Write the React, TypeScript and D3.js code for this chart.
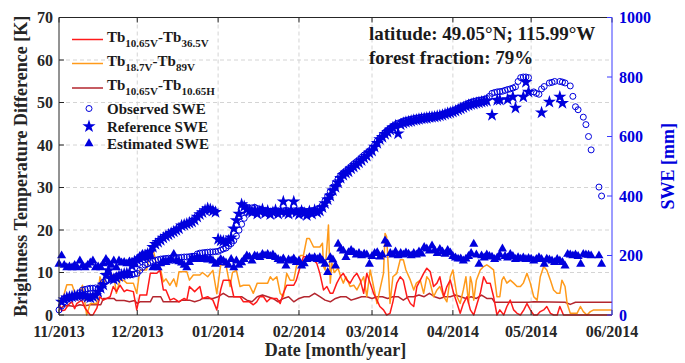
import React from 'react';
import * as d3 from 'd3';

// ---------- data ----------
const START_UTC = Date.UTC(2013, 10, 1);
const xTickLabels = ['11/2013', '12/2013', '01/2014', '02/2014', '03/2014', '04/2014', '05/2014', '06/2014'];
const leftTicks = [0, 10, 20, 30, 40, 50, 60, 70];
const rightTicks = [0, 200, 400, 600, 800, 1000];

// [day offset from 1 Nov 2013, K]
const tb1065V_365V: [number, number][] = [[0,2.7],[1,1.0],[2.3,1.2],[3.6,2.4],[4.9,3.1],[6,1.5],[6.8,2.7],[8.7,3.5],[10,1.6],[12,0],[13,0],[14.5,1.6],[15.7,4.3],[17,3.5],[19.6,4.3],[20.8,6.7],[22,5.5],[23.4,7],[25,5.5],[26,5.9],[28.5,5.5],[29.8,1.2],[31,4.7],[33.6,4.7],[35,9.8],[37.5,9.8],[38.7,10.6],[40,5.9],[41,5.9],[42.6,3.5],[44,3.9],[46,3.1],[48,3.9],[49,3.5],[50,6.7],[52,5.5],[54,6.7],[55,3.9],[57,4.3],[59,3.5],[60.5,1.2],[62,6],[63,8.2],[65.6,8.2],[67,4.3],[69.4,4.3],[70.7,3.1],[73,3.1],[74.5,2.4],[75.8,3.1],[77,4.3],[78.4,4.3],[79.7,3.1],[81,3.9],[83.5,3.9],[84.8,2.7],[86,5.1],[87.3,7],[90,7],[91,8.2],[92.5,11.4],[93.7,13.7],[96.3,13.7],[97.6,12.9],[98.8,12.2],[100,9.8],[101.4,5.9],[102.7,6.7],[104,5.1],[105,5.1],[106.5,7.5],[107.8,9],[109,9.8],[110.4,8.2],[111.6,7.5],[113,9],[114.2,9.8],[115.5,8.2],[116.8,5.1],[118,9.8],[119.3,7.5],[120.6,5.1],[121.9,3.5],[123,2],[124.4,1.2],[125.6,0],[126.9,0.4],[128,3.1],[129.5,7.5],[130.8,9],[132,8.2],[133.4,4.3],[134.7,2.7],[136,2],[137.2,6.7],[138.5,8.2],[139.8,9.8],[141,11],[142.3,10.2],[143.6,6.7],[144.9,7.5],[146,9],[147.5,4.3],[148.7,6.7],[150,8.2],[151.3,5.1],[152.6,2.7],[153.8,0.4],[155,2.7],[156.4,4.3],[157.7,1.2],[159,0],[160.3,2.7],[161.5,5.1],[162.8,9],[164,7.5],[165.3,7.5],[166.6,4.3],[167.9,0],[169,1.2],[170.5,0],[171.7,2],[173,3.5],[174.3,1.2],[175.6,0.4],[176.9,0],[178.2,1.2],[179.4,2.7],[180.7,1.2],[182,0],[183.3,0],[184.5,0.8],[185.8,1.2],[187,2],[188.4,0.4],[189.6,0],[191,0],[192,2],[193.4,0],[212,0]];

const tb187V_89V: [number, number][] = [[0,2.0],[2,5],[3,7.1],[5,7.1],[7,3.5],[9,7],[10.6,0],[12,2.7],[14.5,2.7],[15.7,9],[17,6.7],[18,9.4],[21,9.4],[22,5.1],[23.4,8.2],[24.7,8.2],[26,7.5],[28.5,7.5],[29.8,5.1],[31,10.6],[33.6,10.6],[35,15.3],[36,15.7],[37.5,11.4],[38.7,11.4],[40,7.8],[41,8.5],[42.5,7],[44,8.5],[45,6.7],[46,10.2],[49,10.2],[50,8.2],[51.5,9.4],[54,9.4],[55,10],[57,9],[59,10.5],[60.5,5],[62,11.8],[64,11.8],[65.6,6.7],[66.5,10],[68,10.5],[69.4,6.7],[70.7,7],[73,7],[74.5,5.1],[76,7.5],[80,7.5],[81,9],[82,8.2],[83.5,9],[84.8,5.1],[86,4.3],[87.3,9.8],[88.6,8.2],[90,8.2],[91,11.4],[92.5,14],[93.7,14],[95,18],[96,18],[97.6,16],[100,16],[101,16.9],[101.4,11.4],[102,10.6],[102.7,16],[103.3,21.2],[104,7.5],[104.6,12.2],[105.5,10],[107,11],[108,9],[109,7.5],[110,9],[111.6,6.7],[113,7],[114.2,5.9],[115.5,7.5],[116.8,9],[118,4.3],[119.3,10.6],[120.6,6.7],[121.9,2.7],[123,5.9],[124.4,9.8],[125,19.2],[125.6,18.4],[126.3,10.6],[126.9,2.7],[128,9],[129.5,9.8],[130.8,13],[132,13],[133,10.6],[134.7,8.2],[136,5.9],[137,7.5],[138.5,8.2],[139.8,5.1],[141,9],[142,8.2],[143.6,4.3],[144.9,5.9],[146,6.7],[147.5,4.3],[148.7,3.1],[150,9],[151,10.6],[152.6,4.3],[153.8,2.7],[155,5.9],[156,9],[157,2.7],[157.7,9],[158.3,7.5],[159,3.5],[160,8.2],[161.5,10.6],[162.8,11.4],[164,11.8],[165,11.4],[166.6,10.6],[167.9,4.3],[169,4.3],[169.8,8.2],[170.5,9],[171.7,7.5],[173,8.2],[174.3,7.5],[175.6,6.7],[176.9,6.7],[178,7.5],[179.4,9.8],[180.7,7.5],[182,4.3],[183.3,3.5],[184.5,9],[185.8,11.4],[187,10.6],[188.4,8.2],[189.6,5.9],[190.9,5.1],[192,5.1],[192.8,8.2],[194,6.7],[194.8,2.7],[196,0.4],[198.6,0.4],[199.9,2],[201,0.8],[202.4,0],[203.7,0.8],[205,1.2],[212,1.2]];

const tb1065V_1065H: [number, number][] = [[0,1.2],[2,2.2],[4,2.2],[6,2.0],[8,2.4],[10,2.2],[12,2.4],[14,2.4],[16,2.4],[17,3.9],[19,3.9],[21,3.9],[22,3.4],[25,3.4],[27,3.1],[29,3.4],[30,2.7],[31,3.1],[33,3.1],[35,3.1],[36,4.3],[38,4.3],[39,4.3],[40,3.1],[43,3.1],[46,3.1],[47,3.5],[50,3.5],[52,3.1],[54,3.5],[55,3.9],[57,3.9],[59,3.9],[61,4.3],[63,5.1],[65,4.3],[68,4.3],[70,4.3],[72,3.5],[74,3.1],[76,4.3],[78,4.7],[80,4.3],[82,3.9],[84,3.1],[86,3.9],[88,4.3],[90,3.1],[92,3.9],[94,4.3],[96,4.3],[98,5.1],[100,4.3],[102,3.5],[104,3.1],[106,3.9],[108,4.3],[110,4.3],[112,3.5],[114,3.9],[116,4.3],[118,4.3],[120,3.9],[122,4.3],[124,4.3],[126,3.9],[128,4.3],[130,4.3],[132,3.5],[134,4.3],[136,4.3],[138,4.7],[140,4.3],[142,5.1],[144,4.3],[146,3.9],[148,4.3],[150,4.3],[152,4.7],[154,4.3],[156,3.9],[158,4.3],[160,3.9],[162,4.7],[164,3.9],[166,3.9],[167,3.0],[180,3.0],[182,3.1],[194,3.0],[196,2.5],[198,3.0],[212,3.0]];

// daily SWE [mm] from 1 Nov 2013 (null = no value)
const observedSWE: (number | null)[] = [
  17, 30, 44, 52, 57, 60, 62, 66, 75, 84,
  86, 88, 90, 90, 91, 88, 100, 110, 115, 118,
  122, 124, 130, 132, 134, 134, 135, 135, 136, 138,
  140, 150, 160, 168, 172, 176, 180, 184, 186, 188,
  189, 190, 191, 191, 192, 193, 193, 194, 195, 195,
  196, 197, 198, 205, 208, 209, 210, 211, 212, 212,
  213, 214, 218, 222, 225, 232, 240, 250, 265, 285,
  305, 325, 345, 355, 360, 362, 358, 355, 352, 350,
  350, 349, 350, 351, 350, 348, 350, 352, 350, 349,
  350, 351, 350, 352, 350, 348, 350, 351, 352, 355,
  360, 370, 385, 400, 415, 430, 445, 458, 470, 478,
  485, 492, 500, 508, 515, 522, 530, 538, 545, 552,
  560, 572, 585, 595, 605, 614, 622, 628, 635, 640,
  645, 648, 652, 654, 656, 658, 660, 662, 663, 665,
  666, 667, 668, 669, 670, 671, 672, 675, 678, 681,
  684, 687, 690, 695, 700, 704, 708, 712, 715, 718,
  720, 722, 723, 725, 728, 735, 745, 748, 750, 751,
  752, 755, 758, 760, 763, 767, 785, 798, 800, 800,
  798, null, 750, 745, 742, 760, 768, null, 780, 782,
  785, null, 785, 783, 780, null, 770, 735, 700, 690,
  null, 665, 640, 600, 555, null, null, 430, 400,
];

const referenceSWE: (number | null)[] = [
  null, 44, 52, 58, 60, 62, 64, 65, 66, 67,
  64, 60, 58, 62, 66, 78, 90, 101, 134, 150,
  125, 120, 125, 130, 135, 138, 140, 141, 165, 180,
  185, 190, 195, 200, 205, 212, 228, 238, 245, 252,
  259, 265, 270, 275, 280, 285, 290, 300, 303, 306,
  310, 313, 320, 330, 338, 345, 352, 358, 355, 350,
  346, 255, 250, 248, 245, 250, 260, 290, 318, 340,
  372, 365, 355, 350, 345, 352, 340, 348, 355, 342,
  350, 338, 345, 352, 340, 348, 381, 345, 340, 350,
  381, 345, 338, 350, 342, 335, 348, 340, 352, 345,
  350, 362, 375, 388, 400, 418, 430, 445, 460, 470,
  478, 482, 492, 498, 505, 512, 520, 528, 535, 545,
  552, 565, 578, 590, 598, 608, 615, 622, 630, 636,
  610, 640, 645, 648, 650, 652, 655, 656, 658, 660,
  661, 662, 664, 665, 666, 668, 670, 672, 675, 678,
  680, 683, 686, 690, 694, 698, 702, 705, 708, 710,
  712, 714, 716, 718, 720, null, 672, null, 722, 723,
  null, null, 725, null, 733, 696, null, null, 733, 783,
  750, null, null, null, null, 680, null, null, 716, null,
  null, null, 733, 712,
];

const estimatedSWE: (number | null)[] = [
  174, 202, 170, 162, 165, 162, 170, 162, 185, 168,
  162, 170, 178, 185, 162, 165, 162, 175, 190, 178,
  170, 185, 162, 185, 178, 180, 175, 182, 180, 172,
  190, 200, 207, 195, 205, 200, 162, 165, 162, 175,
  185, 180, 185, 190, 207, 185, 182, 178, 170, 162,
  180, 195, 190, 198, 192, 190, 195, 188, 192, 185,
  174, 180, 190, 185, 178, 170, 190, 162, 185, 170,
  179, 190, 202, 198, 185, 202, 200, 196, 207, 202,
  207, 200, 205, 196, 190, 185, 192, 168, 188, 185,
  192, 180, 185, 168, 175, 190, 196, 192, 196, 190,
  196, 185, 174, 146, 196, 188, 168, 241, 225, 218,
  196, 213, 220, 213, 205, 210, 202, 208, 205, 174,
  200, 210, 213, 198, 205, 252, 241, 210, 205, 215,
  202, 210, 205, 212, 208, 202, 210, 205, 215, 208,
  230, 225, 218, 235, 220, 210, 224, 215, 207, 220,
  212, 200, 195, 191, 192, 185, 191, 200, 210, 241,
  205, 174, 202, 195, 205, 200, 198, 190, 195, 205,
  225, 200, 195, 207, 200, 190, 196, 191, 195, 190,
  193, 191, 185, 190, 196, 190, 174, 191, 188, 185,
  180, 190, 185, 180, 168, 207, 205, 202, 205, 200,
  174, 207, 205, 204, 202, null, null, 202, 174,
];

const annotation1 = 'latitude: 49.05°N; 115.99°W';
const annotation2 = 'forest fraction: 79%';

// ---------- layout ----------
const W = 685, H = 363;
const L = 59, R = 612, T = 17.5, B = 315;
const FONT = '"Liberation Serif", "Times New Roman", serif';
const BLUE = '#0000dd';
const AXIS_BLUE = '#3a3aff';
const RED = '#ff1a1a';
const ORANGE = '#ff9a1a';
const DARKRED = '#b3262e';

const dayToDate = (d: number) => new Date(START_UTC + d * 86400000);
const tickDates = xTickLabels.map((s) => {
  const [m, y] = s.split('/').map(Number);
  return new Date(Date.UTC(y, m - 1, 1));
});

export default function App() {
  const x = d3.scaleUtc().domain([tickDates[0], tickDates[tickDates.length - 1]]).range([L, R]);
  const yL = d3.scaleLinear().domain([0, 70]).range([B, T]);
  const yR = d3.scaleLinear().domain([0, 1000]).range([B, T]);

  const line = d3.line<[number, number]>()
    .x((p) => x(dayToDate(p[0])))
    .y((p) => yL(p[1]));

  const pts = (arr: (number | null)[]) =>
    arr.map((v, i) => (v == null ? null : { cx: x(dayToDate(i)), cy: yR(v) })).filter(Boolean) as { cx: number; cy: number }[];

  const star = d3.symbol().type(d3.symbolStar).size(54)()!;
  const tri = d3.symbol().type(d3.symbolTriangle).size(36)()!;

  const lineLegend = [
    { color: RED, a: '10.65V', b: '36.5V' },
    { color: ORANGE, a: '18.7V', b: '89V' },
    { color: DARKRED, a: '10.65V', b: '10.65H' },
  ];
  const legY = [39.5, 63.5, 88];

  return (
    <svg width={W} height={H} style={{ position: 'absolute', left: 0, top: 0, background: '#fff' }} fontFamily={FONT} fontWeight="bold">
      <rect x={0} y={0} width={W} height={H} fill="#fff" />
      {/* grid */}
      <g stroke="#d4d4d4" strokeWidth={1} strokeDasharray="4,3">
        {tickDates.slice(1, -1).map((d, i) => (
          <line key={'gx' + i} x1={x(d)} x2={x(d)} y1={T} y2={B} />
        ))}
        {leftTicks.slice(1, -1).map((v) => (
          <line key={'gy' + v} x1={L} x2={R} y1={yL(v)} y2={yL(v)} />
        ))}
      </g>

      {/* lines */}
      <g fill="none" strokeWidth={1.5} strokeLinejoin="round">
        <path d={line(tb1065V_1065H)!} stroke={DARKRED} />
        <path d={line(tb187V_89V)!} stroke={ORANGE} />
        <path d={line(tb1065V_365V)!} stroke={RED} />
      </g>

      {/* markers */}
      <g>
        {pts(observedSWE).map((p, i) => (
          <circle key={'o' + i} cx={p.cx} cy={p.cy} r={3} fill="none" stroke={BLUE} strokeWidth={1} />
        ))}
        {pts(referenceSWE).map((p, i) => (
          <path key={'s' + i} d={star} transform={`translate(${p.cx},${p.cy})`} fill={BLUE} />
        ))}
        {pts(estimatedSWE).map((p, i) => (
          <path key={'t' + i} d={tri} transform={`translate(${p.cx},${p.cy + 0.8})`} fill={BLUE} />
        ))}
      </g>

      {/* axes box */}
      <g stroke="#262626" strokeWidth={1}>
        <line x1={L} x2={R} y1={B} y2={B} />
        <line x1={L} x2={R} y1={T} y2={T} />
        <line x1={L} x2={L} y1={T} y2={B} />
        {tickDates.map((d, i) => (
          <g key={'xt' + i}>
            <line x1={x(d)} x2={x(d)} y1={B} y2={B - 5} />
            <line x1={x(d)} x2={x(d)} y1={T} y2={T + 5} />
          </g>
        ))}
        {leftTicks.map((v) => (
          <line key={'lt' + v} x1={L} x2={L + 5} y1={yL(v)} y2={yL(v)} />
        ))}
      </g>
      <g stroke={AXIS_BLUE} strokeWidth={1}>
        <line x1={R} x2={R} y1={T} y2={B} />
        {rightTicks.map((v) => (
          <line key={'rt' + v} x1={R} x2={R - 5} y1={yR(v)} y2={yR(v)} />
        ))}
      </g>

      {/* tick labels */}
      <g fontSize={16} fill="#262626">
        {leftTicks.map((v) => (
          <text key={'ll' + v} x={L - 6} y={yL(v)} dy="0.36em" textAnchor="end">{v}</text>
        ))}
        {tickDates.map((d, i) => (
          <text key={'xl' + i} x={x(d)} y={337} textAnchor="middle">{xTickLabels[i]}</text>
        ))}
      </g>
      <g fontSize={16} fill={BLUE}>
        {rightTicks.map((v) => (
          <text key={'rl' + v} x={R + 7} y={yR(v)} dy="0.36em" textAnchor="start">{v}</text>
        ))}
      </g>

      {/* axis titles */}
      <text x={(L + R) / 2} y={356} textAnchor="middle" fontSize={18} fill="#262626">Date [month/year]</text>
      <text transform={`translate(27,${(T + B) / 2}) rotate(-90)`} textAnchor="middle" fontSize={18} fill="#262626">Brightness Temperature Difference [K]</text>
      <text transform={`translate(674,${(T + B) / 2}) rotate(-90)`} textAnchor="middle" fontSize={18} fill={BLUE}>SWE [mm]</text>

      {/* annotation */}
      <g fontSize={19} fill="#1a1a1a">
        <text x={369} y={40}>{annotation1}</text>
        <text x={369} y={64}>{annotation2}</text>
      </g>

      {/* legend */}
      <g fontSize={15} fill="#1a1a1a">
        {lineLegend.map((l, i) => (
          <g key={'lg' + i}>
            <line x1={72} x2={103} y1={legY[i]} y2={legY[i]} stroke={l.color} strokeWidth={1.5} />
            <text x={107} y={legY[i] + 2}>
              Tb<tspan dy={5} fontSize={11}>{l.a}</tspan><tspan dy={-5}>-Tb</tspan><tspan dy={5} fontSize={11}>{l.b}</tspan>
            </text>
          </g>
        ))}
        <circle cx={89} cy={108.5} r={3} fill="none" stroke={BLUE} strokeWidth={1} />
        <text x={107} y={113.5}>Observed SWE</text>
        <path d={star} transform="translate(89,126.5)" fill={BLUE} />
        <text x={107} y={131.5}>Reference SWE</text>
        <path d={tri} transform="translate(89,143.5)" fill={BLUE} />
        <text x={107} y={148.5}>Estimated SWE</text>
      </g>
    </svg>
  );
}
